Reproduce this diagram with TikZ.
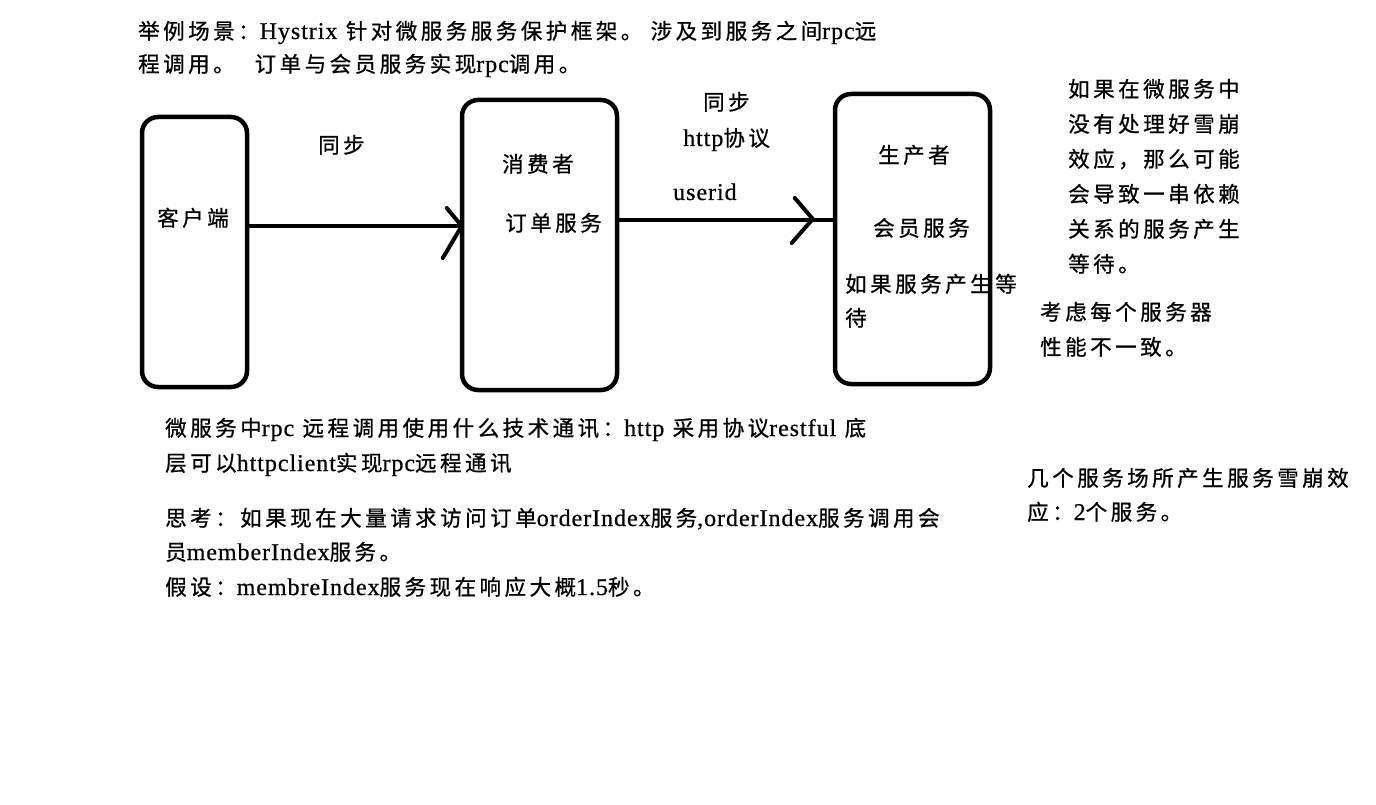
\documentclass[tikz,border=0pt]{standalone}
\usepackage{fontspec}
\setmainfont{Liberation Serif}[LetterSpace=4, FakeBold=0.6]
\newfontfamily\cjk[LetterSpace=16.3, FakeBold=0.8]{Noto Sans CJK SC}
\usetikzlibrary{calc}
\newcommand\en[1]{{\rmfamily\fontsize{24}{24}\selectfont #1}}
\tikzset{
  box/.style={draw, line width=4.5pt, rounded corners=16pt, inner sep=0pt},
  conn/.style={line width=4pt, line cap=round, line join=round},
  txt/.style={anchor=base west, inner sep=0pt, font=\cjk\fontsize{21.5}{21.5}\selectfont},
}
\begin{document}
\begin{tikzpicture}[x=1pt,y=-1pt]
\useasboundingbox[fill=white] (0,0) rectangle (1376,805);
% boxes
\node[box, minimum width=105pt, minimum height=270pt] (client) at (194.5,252) {};
\node[box, minimum width=155pt, minimum height=290pt] (consumer) at (539.5,245) {};
\node[box, minimum width=155pt, minimum height=290pt] (producer) at (912.5,239) {};
% connectors
\coordinate (y1) at (0,226);
\coordinate (y2) at (0,220);
\draw[conn] (client.east |- y1) -- (consumer.west |- y1);
\coordinate (tip1) at ($(consumer.west |- y1)+(2,0)$);
\draw[conn] ($(tip1)+(-15,-18)$) -- (tip1) -- ($(tip1)+(-19,32)$);
\draw[conn] (consumer.east |- y2) -- (producer.west |- y2);
\coordinate (tip2) at ($(producer.west |- y2)+(-20,-1)$);
\draw[conn] ($(tip2)+(-18,-21)$) -- (tip2) -- ($(tip2)+(-21,24)$);
% title
\node[txt] (t1) at (138,39) {举例场景：\en{Hystrix} 针对微服务服务保护框架。 涉及到服务之间\en{rpc}远};
\node[txt] (t2) at (138,72) {程调用。\hspace{20pt}订单与会员服务实现\en{rpc}调用。};
% labels
\node[txt] (sync1) at (318,153) {同步};
\node[txt] (lclient) at (157,226) {客户端};
\node[txt] (lcons) at (502,172) {消费者};
\node[txt] (lorder) at (505,231) {订单服务};
\node[txt] (sync2) at (703,110) {同步};
\node[txt] (http) at (683,146) {\en{http}协议};
\node[txt] (userid) at (673,200) {\en{userid}};
\node[txt] (lprod) at (878,163) {生产者};
\node[txt] (lmem) at (873,236) {会员服务};
\node[txt] (wait1) at (845,292) {如果服务产生等};
\node[txt] (wait2) at (845,326) {待};
% right notes
\node[txt] (r1) at (1068,97) {如果在微服务中};
\node[txt] (r2) at (1068,132) {没有处理好雪崩};
\node[txt] (r3) at (1068,167) {效应，那么可能};
\node[txt] (r4) at (1068,202) {会导致一串依赖};
\node[txt] (r5) at (1068,237) {关系的服务产生};
\node[txt] (r6) at (1068,272) {等待。};
\node[txt] (c1) at (1040,320) {考虑每个服务器};
\node[txt] (c2) at (1040,355) {性能不一致。};
% bottom notes
\node[txt] (b1) at (165,436) {微服务中\en{rpc} 远程调用使用什么技术通讯：\en{http} 采用协议\en{restful} 底};
\node[txt] (b2) at (165,471) {层可以\en{httpclient}实现\en{rpc}远程通讯};
\node[txt] (b3) at (165,526) {思考：如果现在大量请求访问订单\en{orderIndex}服务\en{,orderIndex}服务调用会};
\node[txt] (b4) at (165,560) {员\en{memberIndex}服务。};
\node[txt] (b5) at (165,595) {假设：\en{membreIndex}服务现在响应大概\en{1.5}秒。};
\node[txt] (s1) at (1027,486) {几个服务场所产生服务雪崩效};
\node[txt] (s2) at (1027,520) {应：\en{2}个服务。};
\end{tikzpicture}
\end{document}
